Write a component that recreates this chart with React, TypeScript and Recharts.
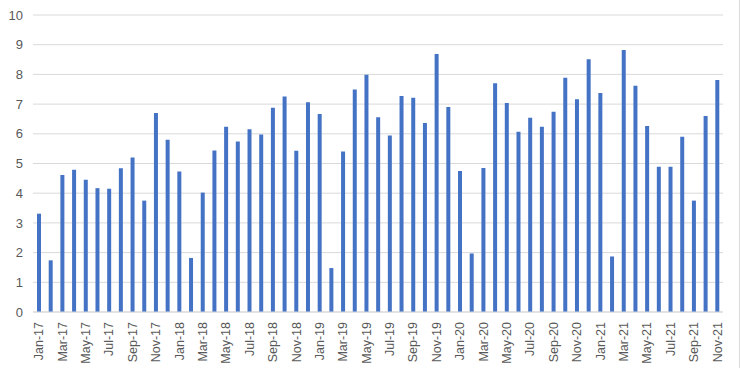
import React from 'react'
import {BarChart, Bar, CartesianGrid, XAxis, YAxis} from 'recharts'

const months = ['Jan', 'Feb', 'Mar', 'Apr', 'May', 'Jun', 'Jul', 'Aug', 'Sep', 'Oct', 'Nov', 'Dec']
const years = ['17', '18', '19', '20', '21']

// monthly values, Jan-17 .. Nov-21
const values = [
  3.31, 1.74, 4.61, 4.79, 4.45, 4.17, 4.15, 4.84, 5.2, 3.75, 6.7, 5.8,
  4.73, 1.82, 4.02, 5.44, 6.24, 5.74, 6.15, 5.98, 6.88, 7.26, 5.43, 7.06,
  6.67, 1.48, 5.4, 7.49, 7.99, 6.56, 5.94, 7.27, 7.21, 6.36, 8.69, 6.9,
  4.75, 1.97, 4.85, 7.7, 7.04, 6.07, 6.54, 6.24, 6.74, 7.89, 7.16, 8.51,
  7.37, 1.87, 8.82, 7.62, 6.26, 4.89, 4.89, 5.9, 3.75, 6.6, 7.81,
]

const yTicks = [0, 1, 2, 3, 4, 5, 6, 7, 8, 9, 10]

const labels = years.flatMap((y) => months.map((m) => `${m}-${y}`)).slice(0, values.length)
const data = labels.map((name, i) => ({name, value: values[i]}))

const MonthTick = (props: any) => {
  const {x, y, payload} = props
  return (
    <g transform={`translate(${x},${y})`}>
      <text transform="rotate(-90)" textAnchor="end" dy="0.35em" fill="#595959" fontSize={12.5}>
        {payload.value}
      </text>
    </g>
  )
}

const App = () => {
  return (
    <div
      style={{
        position: 'absolute',
        left: 0,
        top: 0,
        width: 739,
        height: 368,
        background: '#fff',
        borderRight: '1px solid #d9d9d9',
        fontFamily: '"Liberation Sans", Arial, sans-serif',
      }}
    >
      <BarChart width={739} height={368} data={data} margin={{top: 15, right: 16, left: 0, bottom: 0}}>
        <CartesianGrid vertical={false} stroke="#d9d9d9" />
        <XAxis
          dataKey="name"
          interval={1}
          height={56}
          tickLine={false}
          axisLine={{stroke: '#d9d9d9'}}
          tick={<MonthTick />}
          tickMargin={4}
        />
        <YAxis
          width={33}
          domain={[0, 10]}
          ticks={yTicks}
          tickLine={false}
          axisLine={false}
          tickMargin={4}
          tick={{fill: '#595959', fontSize: 13}}
          interval={0}
        />
        <Bar dataKey="value" fill="#4472C4" barSize={4} isAnimationActive={false} />
      </BarChart>
    </div>
  )
}

export default App
